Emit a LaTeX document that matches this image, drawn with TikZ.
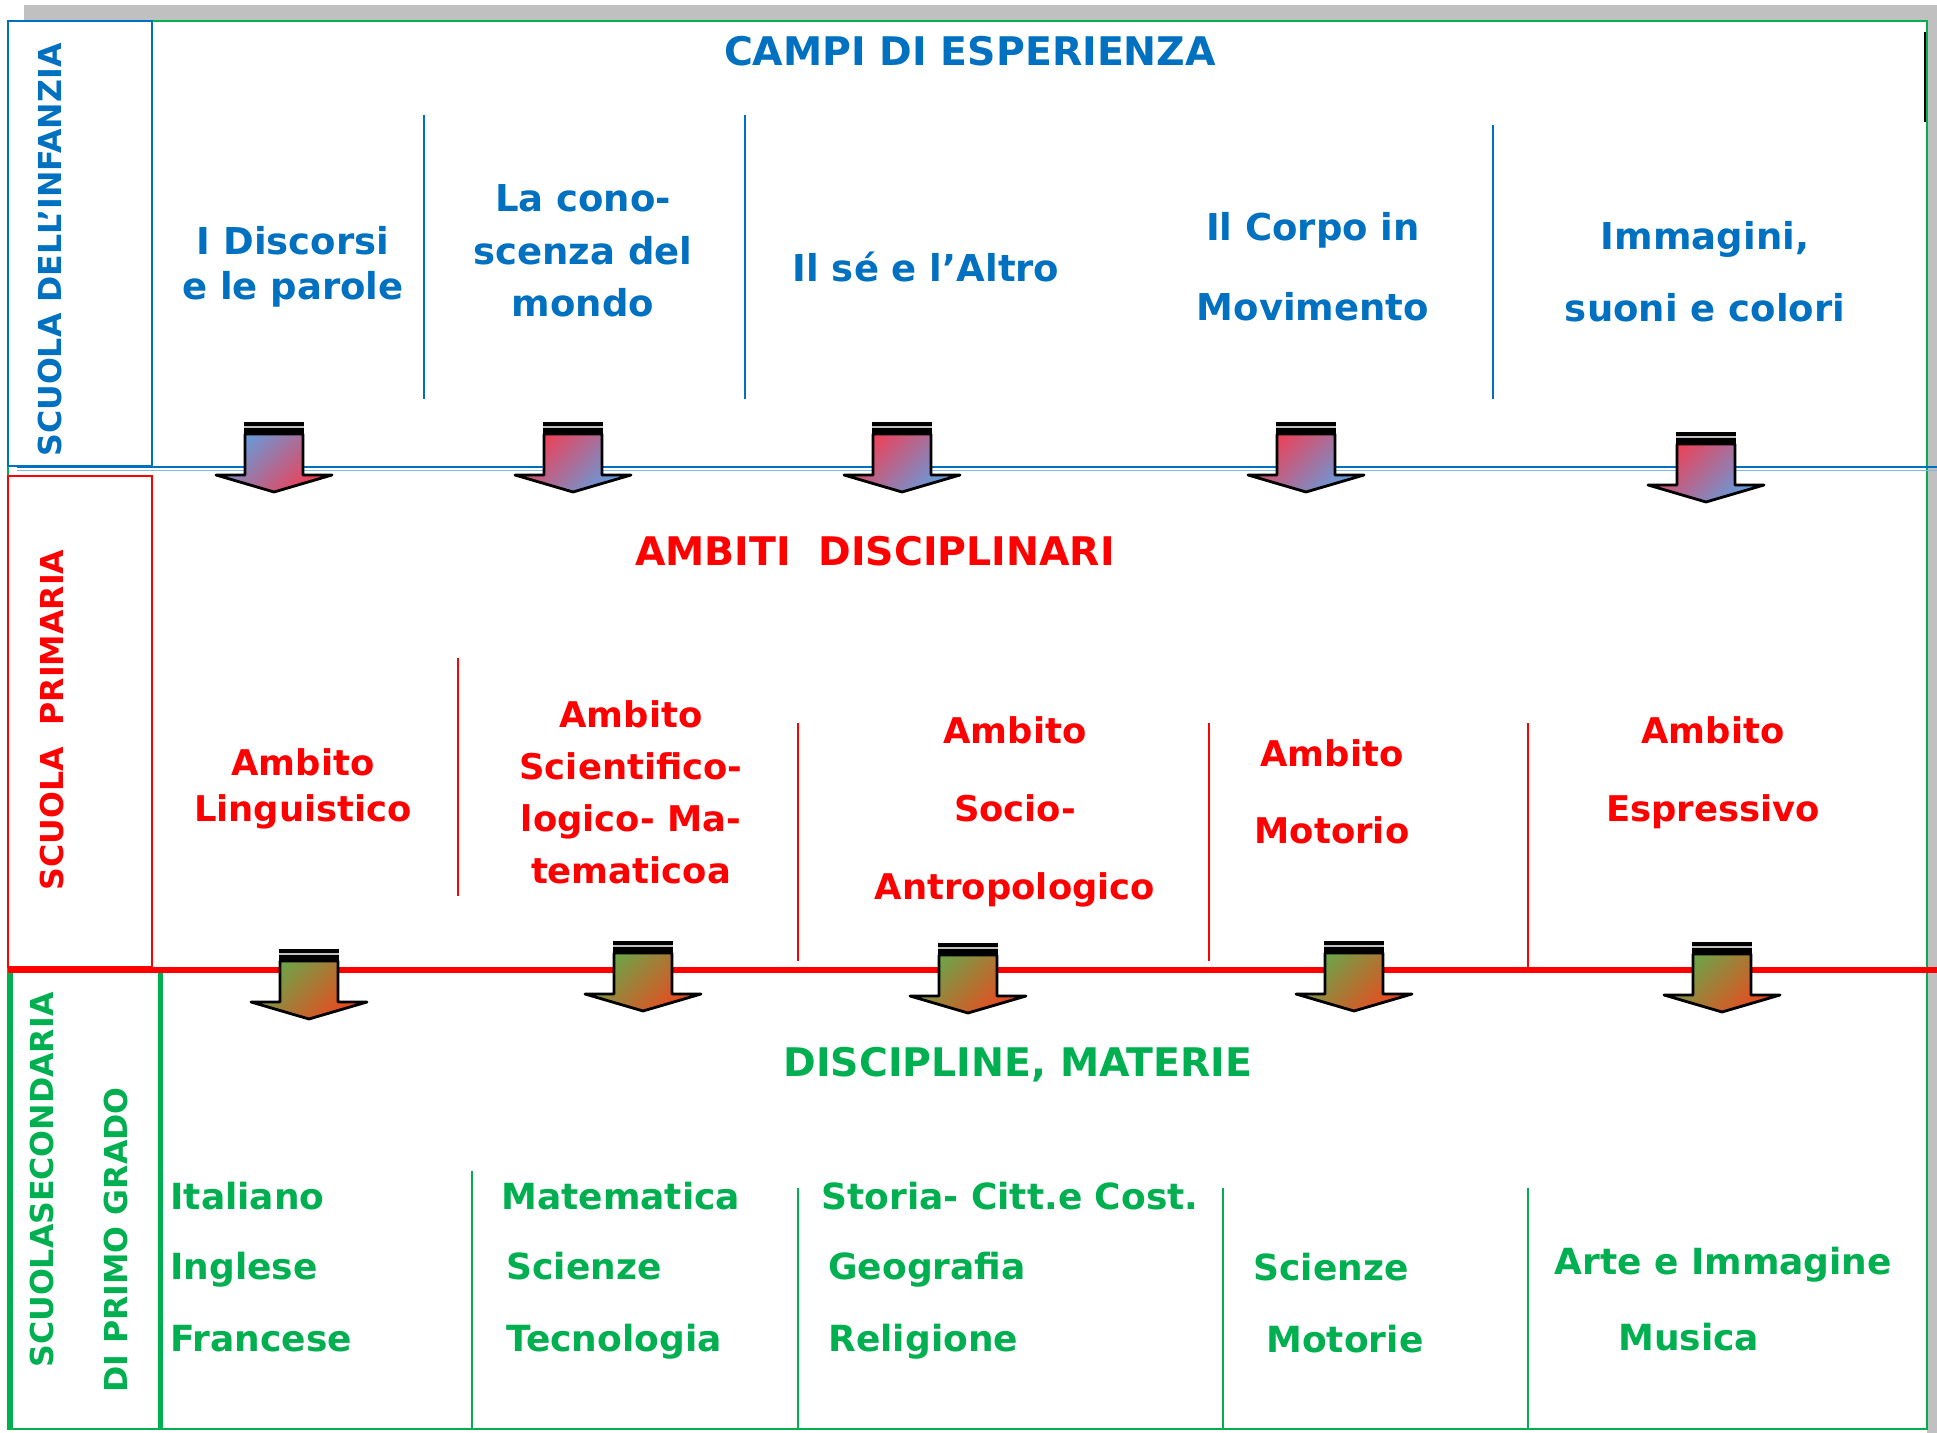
\documentclass[tikz,border=0pt]{standalone}
\usepackage{fontspec}
\setmainfont{DejaVu Sans}
\definecolor{infblue}{RGB}{0,112,192}
\definecolor{primred}{RGB}{255,0,0}
\definecolor{secgreen}{RGB}{0,176,80}
\definecolor{shadowgray}{RGB}{192,192,192}
\definecolor{arrblue}{RGB}{95,160,225}
\definecolor{arrred}{RGB}{245,60,80}
\definecolor{arrgreen}{RGB}{100,170,75}
\definecolor{arrorange}{RGB}{240,70,30}
\tikzset{
  every node/.style={inner sep=0pt},
  linesp/.style={font=\fontsize{18.5}{#1}\selectfont\bfseries},
  redsp/.style={font=\fontsize{17.7}{#1}\selectfont\bfseries},
  headtext/.style={font=\fontsize{19.7}{22}\selectfont\bfseries},
  inftext/.style={text=infblue, align=center},
  primtext/.style={text=primred, align=center},
  sectext/.style={text=secgreen, anchor=base west, font=\fontsize{18}{22}\selectfont\bfseries},
  sidetext/.style={rotate=90, font=\fontsize{15.8}{19}\selectfont\bfseries},
  bluered/.style={top color=arrblue, bottom color=arrred, shading angle=45},
  redblue/.style={top color=arrred, bottom color=arrblue, shading angle=45},
  greenred/.style={top color=arrgreen, bottom color=arrorange, shading angle=45},
  pics/flowarrow/.style={code={
    \fill[black] (-30,0) rectangle (30,12);
    \draw[shadowgray, line width=0.6pt] (-30,5) -- (30,5);
    \draw[#1, draw=black, line width=1.4pt, line join=round] (-29,12) -- (29,12) -- (29,53) -- (58,53) -- (0,70) -- (-58,53) -- (-29,53) -- cycle;
  }},
}
\begin{document}
\begin{tikzpicture}[x=0.5pt, y=-0.5pt]
\useasboundingbox (0,0) rectangle (1937,1433);
\fill[shadowgray] (24,5) rectangle (1937,1433);
\fill[white] (0,21) rectangle (1927,1433);
\draw[secgreen, line width=1pt] (8,21) rectangle (1927,1429);
\draw[black, line width=1pt] (1925,32) -- (1925,122);

\draw[infblue, line width=1pt] (8,21) rectangle (152,466);
\draw[infblue, line width=1pt] (17,467) -- (1937,467);
\draw[infblue!50, line width=0.8pt] (17,470.5) -- (1937,470.5);
\draw[primred, line width=1pt] (8,476) rectangle (152,967);
\draw[primred, line width=3pt] (8,970) -- (1937,970);
\draw[secgreen, line width=2.5pt] (10.5,973) -- (10.5,1429);
\draw[secgreen, line width=2.5pt] (160,973) -- (160,1429);

\draw[infblue, line width=1pt] (424,115) -- (424,399);
\draw[infblue, line width=1pt] (745,115) -- (745,399);
\draw[infblue, line width=1pt] (1493,125) -- (1493,399);
\draw[primred, line width=1pt] (458,658) -- (458,896);
\draw[primred, line width=1pt] (798,723) -- (798,961);
\draw[primred, line width=1pt] (1209,723) -- (1209,961);
\draw[primred, line width=1pt] (1528,723) -- (1528,967);
\draw[secgreen, line width=1pt] (472,1171) -- (472,1429);
\draw[secgreen, line width=1pt] (798,1188) -- (798,1429);
\draw[secgreen, line width=1pt] (1223,1188) -- (1223,1429);
\draw[secgreen, line width=1pt] (1528,1188) -- (1528,1429);

\node[sidetext, text=infblue] (infanzia) at (50,250) {SCUOLA DELL’INFANZIA};
\node[sidetext, text=primred] (primaria) at (52,720) {SCUOLA\ \ PRIMARIA};
\node[sidetext, text=secgreen] (secondaria) at (42,1180) {SCUOLASECONDARIA};
\node[sidetext, text=secgreen] (grado) at (116,1240) {DI PRIMO GRADO};

\node[inftext, headtext] (campi) at (970,51) {CAMPI DI ESPERIENZA};
\node[inftext, linesp=22.25] (discorsi) at (293,267) {I Discorsi\\e le parole};
\node[inftext, linesp=26.25] (conoscenza) at (583,251) {La cono-\\scenza del\\mondo};
\node[inftext, linesp=22] (altro) at (926,267) {Il sé e l’Altro};
\node[inftext, linesp=40] (corpo) at (1313,267) {Il Corpo in\\Movimento};
\node[inftext, linesp=36] (immagini) at (1705,272) {Immagini,\\suoni e colori};

\pic (arrA1) at (274,422) {flowarrow=bluered};
\pic (arrA2) at (573,422) {flowarrow=redblue};
\pic (arrA3) at (902,422) {flowarrow=redblue};
\pic (arrA4) at (1306,422) {flowarrow=redblue};
\pic (arrA5) at (1706,432) {flowarrow=redblue};

\node[primtext, headtext] (ambiti) at (875,551) {AMBITI\ \ DISCIPLINARI};
\node[primtext, redsp=23] (linguistico) at (303,789) {Ambito\\Linguistico};
\node[primtext, redsp=26] (scientifico) at (631,792) {Ambito\\Scientifico-\\logico- Ma-\\tematicoa};
\node[primtext, redsp=39] (socio) at (1015,812) {Ambito\\Socio-\\Antropologico};
\node[primtext, redsp=38.5] (motorio) at (1332,792) {Ambito\\Motorio};
\node[primtext, redsp=39] (espressivo) at (1713,773) {Ambito\\Espressivo};

\pic (arrB1) at (309,949) {flowarrow=greenred};
\pic (arrB2) at (643,941) {flowarrow=greenred};
\pic (arrB3) at (968,943) {flowarrow=greenred};
\pic (arrB4) at (1354,941) {flowarrow=greenred};
\pic (arrB5) at (1722,942) {flowarrow=greenred};

\node[text=secgreen, headtext] (discipline) at (1018,1065) {DISCIPLINE, MATERIE};
\node[sectext] (italiano) at (170,1209) {Italiano};
\node[sectext] (inglese) at (170,1279) {Inglese};
\node[sectext] (francese) at (170,1351) {Francese};
\node[sectext] (matematica) at (501,1209) {Matematica};
\node[sectext] (scienze) at (506,1279) {Scienze};
\node[sectext] (tecnologia) at (506,1351) {Tecnologia};
\node[sectext] (storia) at (821,1209) {Storia- Citt.e Cost.};
\node[sectext] (geografia) at (828,1279) {Geografia};
\node[sectext] (religione) at (828,1351) {Religione};
\node[sectext] (scienzemot) at (1253,1280) {Scienze};
\node[sectext] (motorie) at (1266,1352) {Motorie};
\node[sectext] (arte) at (1554,1274) {Arte e Immagine};
\node[sectext] (musica) at (1618,1350) {Musica};
\end{tikzpicture}
\end{document}
